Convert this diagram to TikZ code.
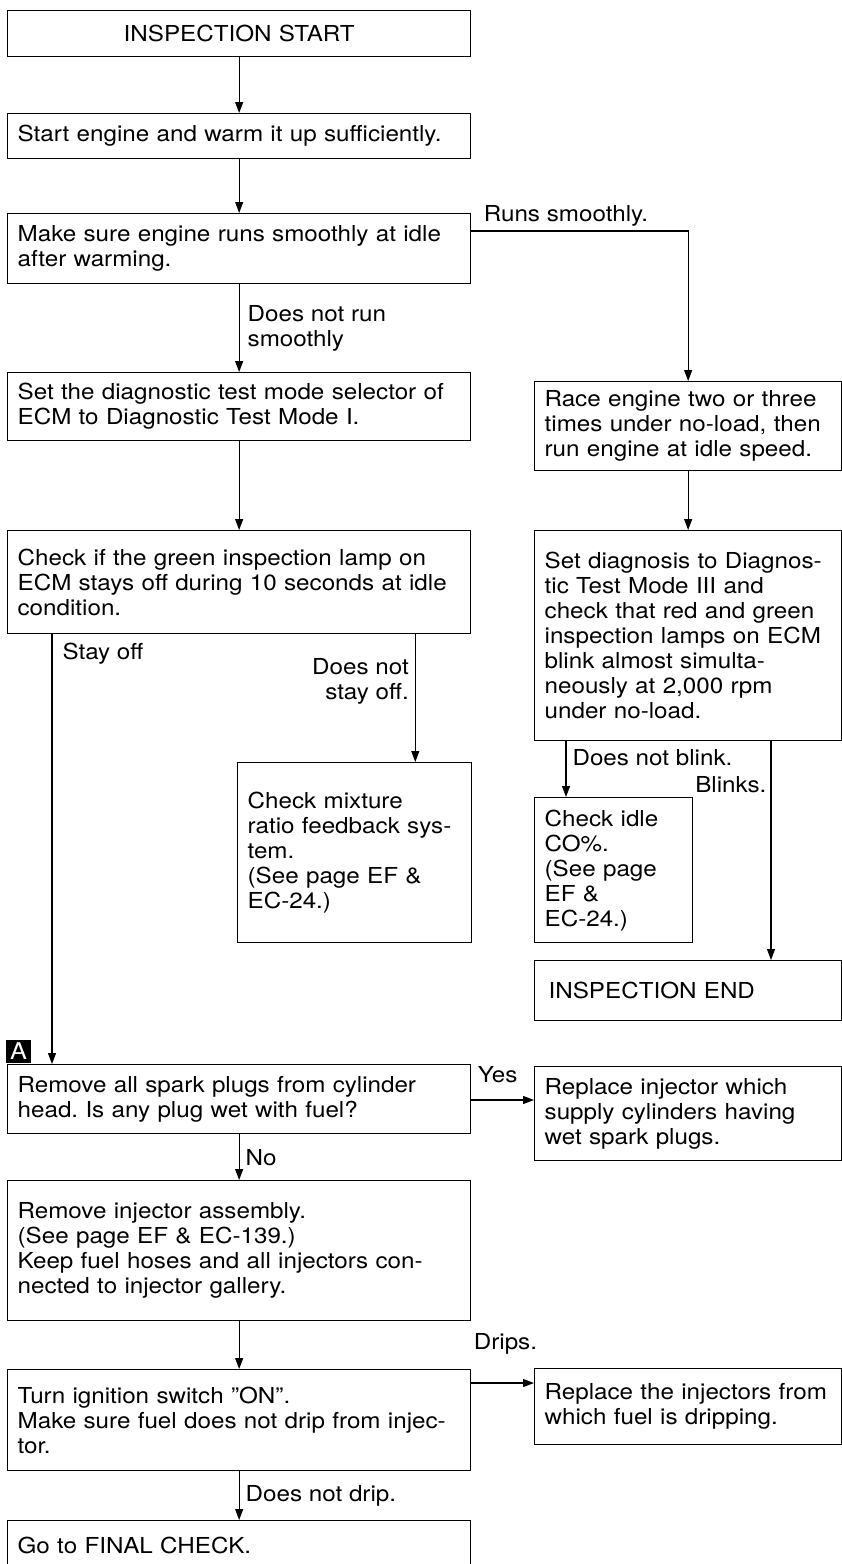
\documentclass[tikz,border=0pt]{standalone}
\usepackage{fontspec}
\setmainfont{TeX Gyre Heros}[FakeStretch=1.1]
\usetikzlibrary{arrows.meta, calc}
\frenchspacing

\tikzset{
  stepbox/.style={draw, line width=1.3pt, anchor=north west, align=left, inner xsep=10pt, inner ysep=0pt},
  flow/.style={->, line width=1.1pt},
  lbl/.style={inner sep=2pt, align=left},
}

\begin{document}
\begin{tikzpicture}[x=1pt, y=-1pt, >={Triangle[length=11pt, width=8pt]}, every node/.style={font=\fontsize{22}{25}\selectfont}]
  \useasboundingbox (0,0) rectangle (841,1564);

  % left column
  \node[stepbox, text width=443pt, minimum height=46pt, align=center] (start) at (7,10) {INSPECTION START};
  \node[stepbox, text width=443pt, minimum height=45pt] (warm) at (7,113) {Start engine and warm it up sufficiently.};
  \node[stepbox, text width=443pt, minimum height=70pt] (smooth) at (7,213) {Make sure engine runs smoothly at idle\\after warming.};
  \node[stepbox, text width=443pt, minimum height=68pt] (mode) at (7,372) {Set the diagnostic test mode selector of\\ECM to Diagnostic Test Mode I.};
  \node[stepbox, text width=443pt, minimum height=103pt] (green) at (7,530) {Check if the green inspection lamp on\\ECM stays off during 10 seconds at idle\\condition.};
  \node[stepbox, text width=214pt, minimum height=180pt] (mixture) at (237,762) {Check mixture\\ratio feedback sys-\\tem.\\(See page EF \&\\EC-24.)\\[4pt]};

  % right column
  \node[stepbox, text width=287pt, minimum height=89pt] (race) at (534,381) {Race engine two or three\\times under no-load, then\\run engine at idle speed.};
  \node[stepbox, text width=287pt, minimum height=210pt] (blink) at (534,530) {Set diagnosis to Diagnos-\\tic Test Mode III and\\check that red and green\\inspection lamps on ECM\\blink almost simulta-\\neously at 2,000 rpm\\under no-load.};
  \node[stepbox, text width=138pt, minimum height=145pt] (idleco) at (534,797) {Check idle\\CO\%.\\(See page\\EF \&\\EC-24.)};
  \node[stepbox, minimum height=60pt, inner xsep=14pt, text width=279pt] (finish) at (534,960) {INSPECTION END};

  % injector checks
  \node[fill=black, text=white, minimum width=25pt, minimum height=23pt, inner sep=0pt, font=\fontsize{23}{23}\selectfont] (marka) at (18.5,1051) {A};
  \node[stepbox, text width=443pt, minimum height=69pt] (plugs) at (7,1064) {Remove all spark plugs from cylinder\\head. Is any plug wet with fuel?};
  \node[stepbox, text width=287pt, minimum height=94pt] (wetplug) at (534,1066) {Replace injector which\\supply cylinders having\\wet spark plugs.};
  \node[stepbox, text width=443pt, minimum height=140pt] (assembly) at (7,1180) {Remove injector assembly.\\(See page EF \& EC-139.)\\Keep fuel hoses and all injectors con-\\nected to injector gallery.};
  \node[stepbox, text width=443pt, minimum height=101pt] (ignition) at (7,1369) {Turn ignition switch ''ON''.\\Make sure fuel does not drip from injec-\\tor.};
  \node[stepbox, text width=287pt, minimum height=76pt] (dripping) at (534,1368) {Replace the injectors from\\which fuel is dripping.};
  \node[stepbox, text width=443pt, minimum height=50pt] (final) at (7,1520) {Go to FINAL CHECK.};

  \coordinate (runs) at ($(smooth.north east)+(0,18)$);
  \coordinate (stayoff) at ($(plugs.north west)+(45,0)$);
  \coordinate (stayon) at ($(mixture.north east)+(-57,0)$);
  \coordinate (noblink) at ($(idleco.north west)+(32,0)$);
  \coordinate (blinks) at ($(finish.north west)+(237,0)$);
  \coordinate (yes) at ($(plugs.north east)+(0,36)$);
  \coordinate (drips) at ($(ignition.north east)+(0,14)$);

  \draw[flow] (start.south) -- (warm.north);
  \draw[flow] (warm.south) -- (smooth.north);
  \draw[flow] (smooth.south) -- (mode.north) node[lbl, midway, right, xshift=6pt] {Does not run\\smoothly};
  \draw[flow] (runs) -| (race.north) node[lbl, at start, above right, xshift=10pt, yshift=2pt] {Runs smoothly.};
  \draw[flow] (mode.south) -- (green.north);
  \draw[flow] (race.south) -- (blink.north);
  \draw[flow] (green.south -| stayoff) -- (stayoff) node[lbl, at start, below right, xshift=8pt, yshift=-6pt] {Stay off};
  \draw[flow] (green.south -| stayon) -- (stayon) node[lbl, pos=0.37, left, align=right, xshift=-4pt] {Does not\\stay off.};
  \draw[flow] (blink.south -| noblink) -- (noblink) node[lbl, pos=0.3, right, xshift=4pt] {Does not blink.};
  \draw[flow] (blink.south -| blinks) -- (blinks) node[lbl, pos=0.2, left, xshift=-2pt] {Blinks.};
  \draw[flow] (yes) -- (yes -| wetplug.west) node[lbl, at start, above right, xshift=4pt, yshift=15pt] {Yes};
  \draw[flow] (plugs.south) -- (assembly.north) node[lbl, midway, right, xshift=4pt] {No};
  \draw[flow] (assembly.south) -- (ignition.north);
  \draw[flow] (drips) -- (drips -| dripping.west) node[lbl, at start, above right, yshift=26pt] {Drips.};
  \draw[flow] (ignition.south) -- (final.north) node[lbl, midway, right, xshift=4pt] {Does not drip.};
\end{tikzpicture}
\end{document}
